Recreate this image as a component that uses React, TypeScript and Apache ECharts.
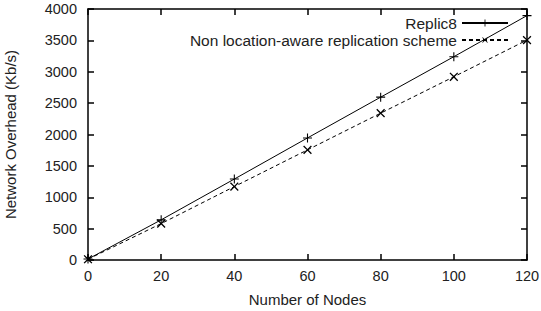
import React, { useEffect, useRef } from "react";
import * as echarts from "echarts";

const nodes = [0, 20, 40, 60, 80, 100, 120];
const replic8 = [15, 640, 1290, 1945, 2595, 3240, 3895];
const nonAware = [12, 580, 1170, 1755, 2340, 2920, 3505];
const seriesNames = ["Replic8", "Non location-aware replication scheme"];
const xTitle = "Number of Nodes";
const yTitle = "Network Overhead (Kb/s)";

const PLUS = "path://M4.4,0H5.6V4.4H10V5.6H5.6V10H4.4V5.6H0V4.4H4.4Z";
const FONT = "Liberation Sans";
const TXT = "#222";

export default function App() {
  const ref = useRef<HTMLDivElement>(null);
  useEffect(() => {
    document.body.style.margin = "0";
    const chart = echarts.init(ref.current!, null, { renderer: "svg" });
    const tickCommon = { show: true, inside: true, length: 6, lineStyle: { color: "#000", width: 1.5 } };
    const lineCommon = { show: true, onZero: false, lineStyle: { color: "#000", width: 1.5 } };
    const fmt = (v: number) => String(v);
    const legendBase = {
      orient: "vertical",
      right: 27,
      align: "right",
      itemWidth: 46,
      itemHeight: 9,
      padding: 0,
      textStyle: { fontFamily: FONT, fontSize: 15.5, color: TXT, lineHeight: 16 },
    };
    chart.setOption({
      animation: false,
      backgroundColor: "#fff",
      grid: { left: 88, right: 14, top: 9, bottom: 51, outerBoundsMode: "none", containLabel: false },
      legend: [
        { ...legendBase, right: 32, top: 15, data: [seriesNames[0]] },
        { ...legendBase, right: 32, top: 32, data: [seriesNames[1]] },
      ],
      xAxis: [
        {
          type: "value",
          min: 0,
          max: 120,
          interval: 20,
          name: xTitle,
          nameLocation: "middle",
          nameGap: 32,
          nameTextStyle: { fontFamily: FONT, fontSize: 15, color: TXT },
          axisLine: lineCommon,
          axisTick: tickCommon,
          axisLabel: { fontFamily: FONT, fontSize: 14.5, color: TXT, margin: 8, formatter: fmt },
          splitLine: { show: false },
        },
        {
          type: "value",
          position: "top",
          min: 0,
          max: 120,
          interval: 20,
          axisLine: lineCommon,
          axisTick: tickCommon,
          axisLabel: { show: false },
          splitLine: { show: false },
        },
      ],
      yAxis: [
        {
          type: "value",
          min: 0,
          max: 4000,
          interval: 500,
          name: yTitle,
          nameLocation: "middle",
          nameGap: 70,
          nameTextStyle: { fontFamily: FONT, fontSize: 15, color: TXT },
          axisLine: lineCommon,
          axisTick: tickCommon,
          axisLabel: { fontFamily: FONT, fontSize: 14.5, color: TXT, margin: 11, formatter: fmt },
          splitLine: { show: false },
        },
        {
          type: "value",
          position: "right",
          min: 0,
          max: 4000,
          interval: 500,
          axisLine: lineCommon,
          axisTick: tickCommon,
          axisLabel: { show: false },
          splitLine: { show: false },
        },
      ],
      series: [
        {
          name: seriesNames[0],
          type: "line",
          data: nodes.map((x, i) => [x, replic8[i]]),
          symbol: PLUS,
          symbolSize: 9,
          showAllSymbol: true,
          clip: false,
          lineStyle: { color: "#000", width: 1 },
          itemStyle: { color: "#000" },
          z: 3,
        },
        {
          name: seriesNames[1],
          type: "line",
          data: nodes.map((x, i) => [x, nonAware[i]]),
          symbol: PLUS,
          symbolSize: 11,
          symbolRotate: 45,
          showAllSymbol: true,
          clip: false,
          lineStyle: { color: "#000", width: 1, type: [4, 3] },
          itemStyle: { color: "#000" },
          z: 3,
        },
      ],
    });
    return () => chart.dispose();
  }, []);
  return <div ref={ref} style={{ width: 541, height: 311 }} />;
}
